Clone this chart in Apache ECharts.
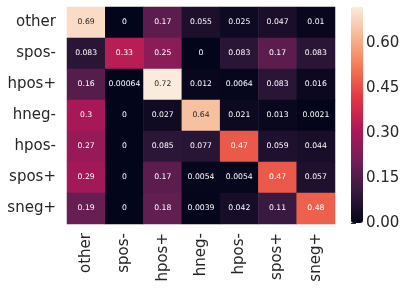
<!DOCTYPE html>
<html>
<head>
<meta charset="utf-8">
<script src="https://cdn.jsdelivr.net/npm/echarts@6/dist/echarts.min.js"></script>
<style>html,body{margin:0;padding:0;background:#fff}#c{width:412px;height:291px}</style>
</head>
<body>
<div id="c"></div>
<script>
const xCategories = ['other', 'spos-', 'hpos+', 'hneg-', 'hpos-', 'spos+', 'sneg+'];
const yCategories = ['other', 'spos-', 'hpos+', 'hneg-', 'hpos-', 'spos+', 'sneg+'];
const rowOther = [0.69, 0, 0.17, 0.055, 0.025, 0.047, 0.01];
const rowSposMinus = [0.083, 0.33, 0.25, 0, 0.083, 0.17, 0.083];
const rowHposPlus = [0.16, 0.00064, 0.72, 0.012, 0.0064, 0.083, 0.016];
const rowHnegMinus = [0.3, 0, 0.027, 0.64, 0.021, 0.013, 0.0021];
const rowHposMinus = [0.27, 0, 0.085, 0.077, 0.47, 0.059, 0.044];
const rowSposPlus = [0.29, 0, 0.17, 0.0054, 0.0054, 0.47, 0.057];
const rowSnegPlus = [0.19, 0, 0.18, 0.0039, 0.042, 0.11, 0.48];
const colorbarMin = 0;
const colorbarMax = 0.72;
const colorbarInterval = 0.15;

const rows = [rowOther, rowSposMinus, rowHposPlus, rowHnegMinus, rowHposMinus, rowSposPlus, rowSnegPlus];
const rocket = ['#03051a', '#35193e', '#701f57', '#ad1759', '#e13342', '#f37651', '#f6b48f', '#faebdd'];
const FONT = 'DejaVu Sans';
const data = [];
rows.forEach((r, yi) => r.forEach((v, xi) => {
  data.push({
    value: [xi, yi, v],
    label: { color: v > 0.55 ? '#262626' : '#ffffff' }
  });
}));

const chart = echarts.init(document.getElementById('c'));
chart.setOption({
  animation: false,
  backgroundColor: '#ffffff',
  grid: [
    { left: 67, top: 7, width: 268, height: 217 },
    { left: 351, top: 7, width: 12, height: 216 }
  ],
  xAxis: [
    {
      gridIndex: 0, type: 'category', data: xCategories,
      axisLine: { show: false }, axisTick: { show: false }, splitLine: { show: false },
      axisLabel: { rotate: 90, margin: 9, fontSize: 15, color: '#262626', fontFamily: FONT }
    },
    { gridIndex: 1, type: 'value', show: false, min: 0, max: 1 }
  ],
  yAxis: [
    {
      gridIndex: 0, type: 'category', data: yCategories, inverse: true,
      axisLine: { show: false }, axisTick: { show: false }, splitLine: { show: false },
      axisLabel: { margin: 11, fontSize: 15, color: '#262626', fontFamily: FONT }
    },
    {
      gridIndex: 1, type: 'value', position: 'right', min: colorbarMin, max: colorbarMax, interval: colorbarInterval,
      axisLine: { show: false }, splitLine: { show: false },
      axisTick: { show: true, length: 5, lineStyle: { color: '#262626', width: 1 } },
      axisLabel: { margin: 3, fontSize: 15, color: '#262626', fontFamily: FONT,
        formatter: v => v.toFixed(2), showMaxLabel: false }
    }
  ],
  visualMap: {
    type: 'continuous', min: colorbarMin, max: colorbarMax, seriesIndex: 0,
    show: true, calculable: false, orient: 'vertical',
    left: 351, top: 7, itemWidth: 12, itemHeight: 216, padding: 0,
    text: null, showLabel: false,
    inRange: { color: rocket }
  },
  series: [
    {
      type: 'heatmap', xAxisIndex: 0, yAxisIndex: 0, data: data,
      itemStyle: { borderWidth: 0 },
      label: { show: true, fontSize: 7.7, fontFamily: FONT,
        formatter: p => String(p.value[2]) },
      emphasis: { disabled: true }
    },
    { type: 'line', xAxisIndex: 1, yAxisIndex: 1, data: [], silent: true }
  ]
});
</script>
</body>
</html>
